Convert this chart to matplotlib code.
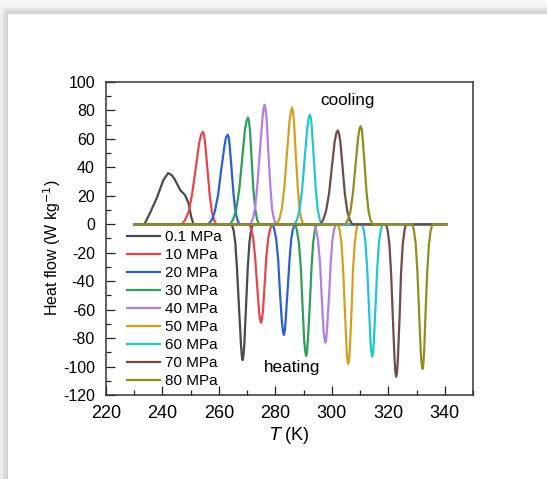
import matplotlib
matplotlib.use("Agg")
from matplotlib import pyplot as plt
from matplotlib.patches import Rectangle
from matplotlib.ticker import MultipleLocator

plt.rcParams['font.family'] = ['Liberation Sans', 'DejaVu Sans']
plt.rcParams['axes.unicode_minus'] = False

etiquetas = ['0.1 MPa', '10 MPa', '20 MPa', '30 MPa', '40 MPa',
             '50 MPa', '60 MPa', '70 MPa', '80 MPa']
cores = ['#4a4a4a', '#e8454a', '#2a60d2', '#2f9e5c', '#b27fe2',
         '#d4a022', '#22c6d0', '#714a4a', '#8f8f1f']

# temperaturas (K) e fluxo de calor (W/kg)
T_01 = [230, 233.6, 235.6, 238, 240.3, 242, 243.3, 244.5, 246.3, 248, 249.2, 250.2, 251,
        264.5, 265.2, 265.8, 266.4, 267.1, 267.8, 268.1, 268.4, 268.7, 269.0, 269.6, 270.2, 270.8, 271.4, 272.0,
        340.5]
Q_01 = [0, 0, 8, 18.5, 31, 36, 34.5, 31, 24, 20.5, 15, 5, 0,
        0, -4.2, -12.9, -31.0, -57.9, -84.1, -92.4, -95.4, -92.4, -84.1, -57.9, -31.0, -12.9, -4.2, 0,
        0]

T_10 = [230, 246.8, 248.0, 249.3, 250.5, 251.8, 253.0, 253.7, 254.3, 254.7, 255.1, 255.9, 256.7, 257.5, 258.3, 259.1,
        270.7, 271.4, 272.1, 272.8, 273.5, 274.2, 274.6, 274.9, 275.2, 275.6, 276.2, 276.8, 277.5, 278.2, 278.8,
        340.5]
Q_10 = [0, 0, 2.9, 8.8, 21.1, 39.5, 57.3, 63.0, 65, 63.0, 57.3, 39.5, 21.1, 8.8, 2.9, 0,
        0, -3.0, -9.3, -22.5, -42.0, -61.0, -67.1, -69.2, -67.1, -61.0, -42.0, -22.5, -9.3, -3.0, 0,
        0]

T_20 = [230, 256.2, 257.4, 258.5, 259.7, 260.8, 262.0, 262.5, 263.1, 263.5, 263.8, 264.5, 265.2, 265.9, 266.6, 267.3,
        279.0, 279.6, 280.3, 281.0, 281.6, 282.3, 282.7, 283.0, 283.3, 283.6, 284.3, 285.0, 285.6, 286.2, 286.9,
        340.5]
Q_20 = [0, 0, 2.8, 8.5, 20.5, 38.2, 55.6, 61.0, 63, 61.0, 55.6, 38.2, 20.5, 8.5, 2.8, 0,
        0, -3.4, -10.5, -25.3, -47.2, -68.6, -75.4, -77.8, -75.4, -68.6, -47.2, -25.3, -10.5, -3.4, 0,
        0]

T_30 = [230, 264.0, 265.0, 266.1, 267.2, 268.2, 269.2, 269.8, 270.3, 270.6, 271.0, 271.6, 272.2, 272.9, 273.5, 274.2,
        287.0, 287.6, 288.3, 289.0, 289.6, 290.2, 290.6, 290.9, 291.2, 291.5, 292.2, 292.8, 293.4, 294.0, 294.6,
        340.5]
Q_30 = [0, 0, 3.3, 10.1, 24.4, 45.5, 66.2, 72.7, 75, 72.7, 66.2, 45.5, 24.4, 10.1, 3.3, 0,
        0, -4.1, -12.5, -30.1, -56.2, -81.7, -89.7, -92.6, -89.7, -81.7, -56.2, -30.1, -12.5, -4.1, 0,
        0]

T_40 = [230, 271.1, 272.0, 272.8, 273.6, 274.5, 275.4, 275.8, 276.2, 276.5, 276.9, 277.5, 278.2, 278.8, 279.5, 280.1,
        293.8, 294.4, 295.1, 295.8, 296.4, 297.0, 297.4, 297.7, 298.0, 298.3, 299.0, 299.6, 300.2, 300.8, 301.4,
        340.5]
Q_40 = [0, 0, 3.7, 11.3, 27.3, 51.0, 74.1, 81.4, 84, 81.4, 74.1, 51.0, 27.3, 11.3, 3.7, 0,
        0, -3.7, -11.2, -27.0, -50.5, -73.4, -80.6, -83.2, -80.6, -73.4, -50.5, -27.0, -11.2, -3.7, 0,
        0]

T_50 = [230, 280.5, 281.4, 282.3, 283.2, 284.1, 285.0, 285.5, 285.9, 286.2, 286.6, 287.2, 287.9, 288.5, 289.2, 289.8,
        302.2, 302.8, 303.4, 304.0, 304.6, 305.2, 305.5, 305.8, 306.1, 306.4, 307.0, 307.5, 308.1, 308.7, 309.2,
        340.5]
Q_50 = [0, 0, 3.6, 11.1, 26.7, 49.8, 72.3, 79.5, 82, 79.5, 72.3, 49.8, 26.7, 11.1, 3.6, 0,
        0, -4.3, -13.3, -31.9, -59.6, -86.6, -95.2, -98.2, -95.2, -86.6, -59.6, -31.9, -13.3, -4.3, 0,
        0]

T_60 = [230, 286.8, 287.7, 288.6, 289.5, 290.4, 291.3, 291.8, 292.2, 292.6, 292.9, 293.6, 294.3, 295.0, 295.7, 296.4,
        310.7, 311.3, 311.9, 312.5, 313.1, 313.7, 314.0, 314.3, 314.6, 314.9, 315.5, 316.1, 316.7, 317.3, 317.9,
        340.5]
Q_60 = [0, 0, 3.4, 10.4, 25.0, 46.7, 67.9, 74.6, 77, 74.6, 67.9, 46.7, 25.0, 10.4, 3.4, 0,
        0, -4.1, -12.6, -30.2, -56.5, -82.0, -90.1, -93, -90.1, -82.0, -56.5, -30.2, -12.6, -4.1, 0,
        0]

T_70 = [230, 295.8, 296.9, 297.9, 299.0, 300.0, 301.0, 301.6, 302.1, 302.5, 303.0, 303.8, 304.6, 305.5, 306.4, 307.2,
        319.2, 319.8, 320.4, 321.0, 321.6, 322.2, 322.5, 322.8, 323.1, 323.4, 324.0, 324.5, 325.1, 325.7, 326.2,
        340.5]
Q_70 = [0, 0, 2.9, 8.9, 21.5, 40.1, 58.2, 64.0, 66, 64.0, 58.2, 40.1, 21.5, 8.9, 2.9, 0,
        0, -4.7, -14.5, -34.8, -65.0, -94.5, -103.8, -107.1, -103.8, -94.5, -65.0, -34.8, -14.5, -4.7, 0,
        0]

T_80 = [230, 304.8, 305.7, 306.6, 307.5, 308.4, 309.3, 309.8, 310.2, 310.6, 310.9, 311.6, 312.3, 313.0, 313.7, 314.4,
        328.5, 329.1, 329.7, 330.3, 330.9, 331.5, 331.8, 332.1, 332.4, 332.7, 333.2, 333.8, 334.4, 335.0, 335.6,
        340.5]
Q_80 = [0, 0, 3.0, 9.3, 22.4, 41.9, 60.9, 66.9, 69, 66.9, 60.9, 41.9, 22.4, 9.3, 3.0, 0,
        0, -4.5, -13.7, -33.1, -61.7, -89.7, -98.5, -101.7, -98.5, -89.7, -61.7, -33.1, -13.7, -4.5, 0,
        0]

temperaturas = [T_01, T_10, T_20, T_30, T_40, T_50, T_60, T_70, T_80]
fluxos = [Q_01, Q_10, Q_20, Q_30, Q_40, Q_50, Q_60, Q_70, Q_80]

fig = plt.figure(figsize=(5.47, 4.79), dpi=100)
fig.patch.set_facecolor('#f6f6f6')

# moldura tipo "cartao" com sombra
x0, topo = 8 / 547, 1 - 14 / 479
for i in range(6):
    d = (6 - i) * 1.3
    fig.patches.append(Rectangle((x0 - d / 547, 0), 1, topo + d / 479,
                                 transform=fig.transFigure, facecolor='#9a9a9a',
                                 alpha=0.07, edgecolor='none', zorder=-2))
fig.patches.append(Rectangle((x0, 0), 1, topo, transform=fig.transFigure,
                             facecolor='white', edgecolor='none', zorder=-1))

ax = fig.add_axes([106 / 547, 1 - 395 / 479, 367 / 547, 313 / 479])
ax.set_zorder(3)
ax.set_facecolor('none')

for T, Q, cor, rotulo in zip(temperaturas, fluxos, cores, etiquetas):
    ax.plot(T, Q, color=cor, lw=1.6, label=rotulo)

ax.set_xlim(220, 350)
ax.set_ylim(-120, 100)
ax.xaxis.set_major_locator(MultipleLocator(20))
ax.xaxis.set_minor_locator(MultipleLocator(10))
ax.yaxis.set_major_locator(MultipleLocator(20))
ax.yaxis.set_minor_locator(MultipleLocator(10))

ax.tick_params(which='both', direction='in', color='#222222', width=0.9)
ax.tick_params(which='major', length=6.3)
ax.tick_params(which='minor', length=3.3)
ax.tick_params(axis='x', labelsize=13, pad=7)
ax.tick_params(axis='y', labelsize=11.5, pad=8)
for s in ax.spines.values():
    s.set_linewidth(1.1)
    s.set_color('#333333')

ax.set_xlabel(r'$\it{T}$ (K)', fontsize=13, labelpad=2)
ax.set_ylabel('Heat flow (W kg$^{-1}$)', fontsize=11.5)
ax.yaxis.set_label_coords(-0.117, 0.47)

ax.text(305.6, 83.8, 'cooling', fontsize=12.3, ha='center', va='baseline')
ax.text(285.8, -103.8, 'heating', fontsize=12.3, ha='center', va='baseline')

ax.legend(loc='upper left', bbox_to_anchor=(0.057, 0.527), frameon=False,
          fontsize=11, handlelength=2.16, handletextpad=0.3, labelspacing=0.265,
          borderpad=0, borderaxespad=0)

fig.savefig('out.png', dpi=100, facecolor=fig.get_facecolor())
